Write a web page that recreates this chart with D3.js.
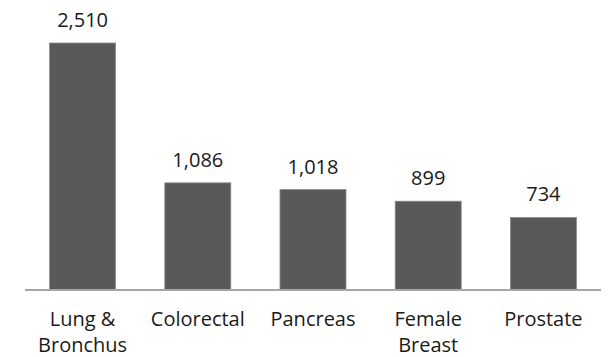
<!DOCTYPE html>
<html>
<head>
<meta charset="utf-8">
<script src="https://cdn.jsdelivr.net/npm/d3@7"></script>
<style>
  body { margin: 0; background: #fff; }
  text { font-family: "Open Sans", sans-serif; fill: #1a1a1a; }
</style>
</head>
<body>
<div id="chart"></div>
<script>
"use strict";

// data
var categories = [["Lung &", "Bronchus"], ["Colorectal"], ["Pancreas"], ["Female", "Breast"], ["Prostate"]];
var values = [2510, 1086, 1018, 899, 734];

var width = 609, height = 357;
var baseY = 289.5;

var svg = d3.select("#chart")
  .append("svg")
  .attr("width", width)
  .attr("height", height);

var x = d3.scaleBand()
  .domain(d3.range(values.length))
  .range([25, 601])
  .paddingInner(0.427)
  .paddingOuter(0.2135);

var y = d3.scaleLinear()
  .domain([0, 2510])
  .range([baseY, 43]);

// bars
svg.selectAll(".bar")
  .data(values)
  .enter().append("rect")
  .attr("class", "bar")
  .attr("x", function(d, i) { return x(i); })
  .attr("y", function(d) { return y(d); })
  .attr("width", x.bandwidth())
  .attr("height", function(d) { return baseY - y(d); })
  .attr("fill", "#595959")
  .attr("stroke", "#8c8c8c")
  .attr("stroke-width", 0.8);

// axis line
svg.append("line")
  .attr("x1", x.range()[0])
  .attr("x2", x.range()[1])
  .attr("y1", baseY + 0.5)
  .attr("y2", baseY + 0.5)
  .attr("stroke", "#a6a6a6")
  .attr("stroke-width", 2);

// value labels
svg.selectAll(".val")
  .data(values)
  .enter().append("text")
  .attr("class", "val")
  .attr("x", function(d, i) { return x(i) + x.bandwidth() / 2; })
  .attr("y", function(d) { return y(d) - 16; })
  .attr("text-anchor", "middle")
  .attr("font-size", "20px")
  .text(function(d) { return d3.format(",")(d); });

// category labels
var cat = svg.selectAll(".cat")
  .data(categories)
  .enter().append("text")
  .attr("class", "cat")
  .attr("text-anchor", "middle")
  .attr("font-size", "20px");

cat.selectAll("tspan")
  .data(function(d, i) { return d.map(function(s) { return { s: s, i: i }; }); })
  .enter().append("tspan")
  .attr("x", function(d) { return x(d.i) + x.bandwidth() / 2; })
  .attr("y", function(d, j) { return 326 + j * 26; })
  .text(function(d) { return d.s; });
</script>
</body>
</html>
